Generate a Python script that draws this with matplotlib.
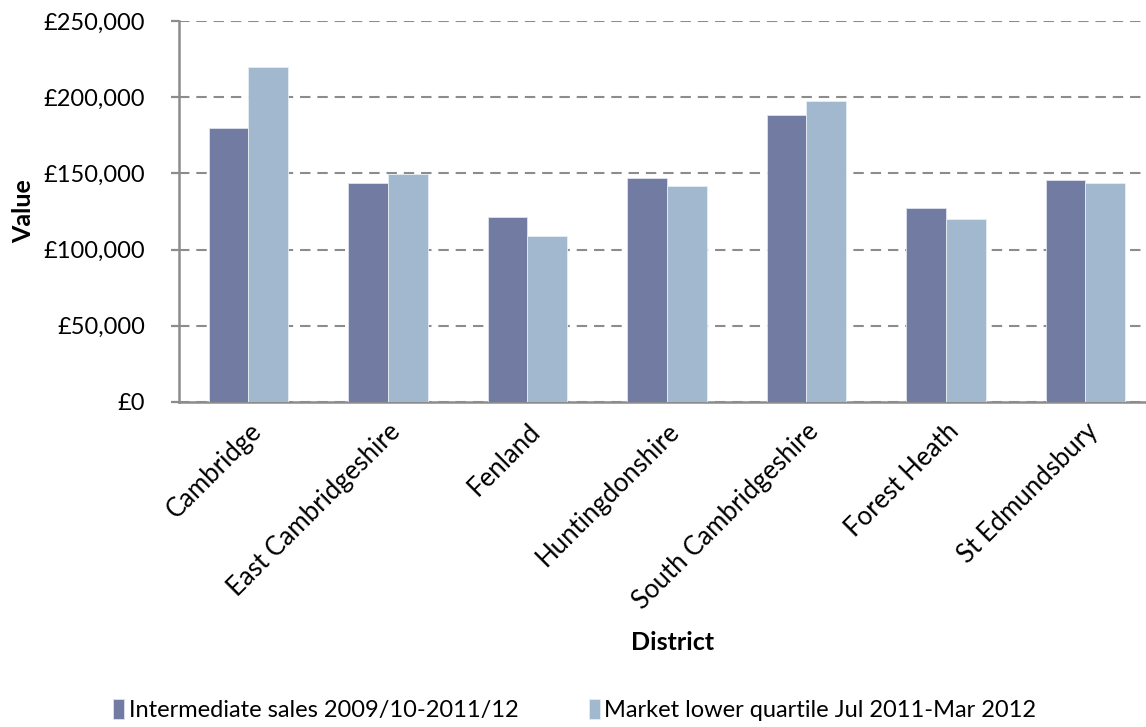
import numpy as np
import matplotlib.pyplot as plt
from matplotlib.ticker import FuncFormatter

districts = ['Cambridge', 'East Cambridgeshire', 'Fenland', 'Huntingdonshire',
             'South Cambridgeshire', 'Forest Heath', 'St Edmundsbury']
intermediate = [180000, 143500, 121500, 147000, 188500, 127000, 145800]
market_lq = [220000, 149800, 109000, 141800, 197500, 119800, 143800]

plt.rcParams['font.family'] = ['Lato', 'DejaVu Sans']

fig = plt.figure(figsize=(11.46, 7.27), dpi=100)
ax = fig.add_axes([178.75 / 1146, 1 - 402 / 727, (1155 - 178.75) / 1146, 381 / 727])

x = np.arange(len(districts))
w = 0.285
ax.bar(x - w / 2, intermediate, w, color='#727ca3', edgecolor='#dfe3ee', linewidth=0.6,
       label='Intermediate sales 2009/10-2011/12', zorder=3)
ax.bar(x + w / 2, market_lq, w, color='#a2b8cf', edgecolor='#e6edf4', linewidth=0.6,
       label='Market lower quartile Jul 2011-Mar 2012', zorder=3)

ax.set_xlim(-0.5, len(districts) - 0.5)
ax.set_ylim(0, 250000)
ax.set_yticks(np.arange(0, 250001, 50000))
ax.yaxis.set_major_formatter(FuncFormatter(lambda v, p: '£{:,.0f}'.format(v)))
ax.yaxis.grid(True, color='#8c8c8c', linewidth=1.5, linestyle=(0, (5, 3.3)), zorder=0)
ax.set_axisbelow(True)

ax.set_xticks(x)
ax.set_xticklabels(districts, rotation=45, ha='right', va='top', rotation_mode='anchor',
                   fontsize=18.5)
ax.tick_params(axis='x', length=0, pad=12)
ax.tick_params(axis='y', length=6, width=1.6, color='#8c8c8c', labelsize=17, pad=18)

for s in ['top', 'right']:
    ax.spines[s].set_visible(False)
for s in ['left', 'bottom']:
    ax.spines[s].set_color('#8c8c8c')
    ax.spines[s].set_linewidth(1.8)

ax.set_ylabel('Value', fontsize=18, fontweight='bold', labelpad=6)
fig.text(673 / 1146, 1 - 643 / 727, 'District', fontsize=18, fontweight='bold',
         ha='center', va='center')

fig.legend(loc='center left', bbox_to_anchor=(92 / 1146, 1 - 710 / 727), ncol=2,
           frameon=False, fontsize=17, handlelength=0.45, handleheight=0.9,
           handletextpad=0.2, columnspacing=3.0)

fig.savefig('out.png', dpi=100)
plt.close('all')
